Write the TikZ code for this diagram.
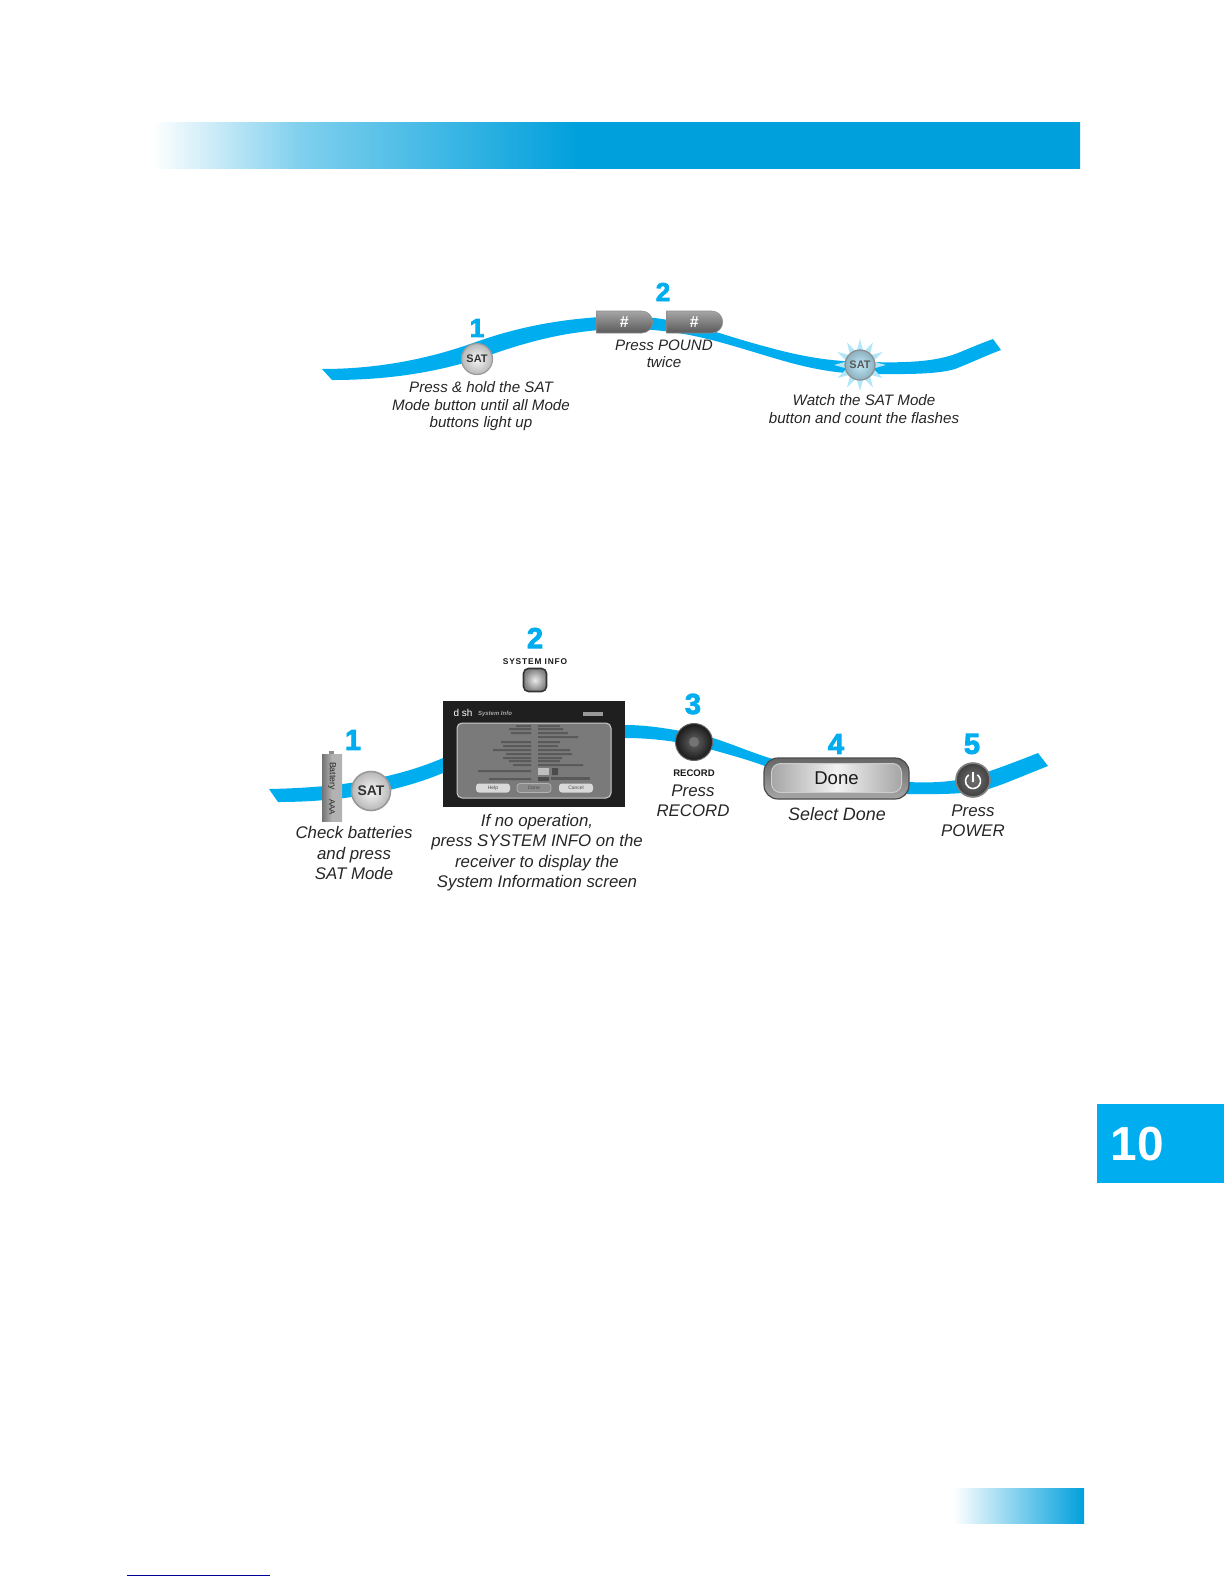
\documentclass[tikz,border=0pt]{standalone}
\usepackage{fontspec}
\setmainfont{Liberation Sans}
\newfontfamily\stepfont[FakeBold=3]{Liberation Sans Bold}
\usetikzlibrary{shapes.geometric,shapes.misc}
\definecolor{ribbonblue}{HTML}{00AEEF}
\definecolor{bandblue}{HTML}{00A0DC}
\pgfdeclarehorizontalshading{bandfade}{100bp}{color(0bp)=(white); color(25bp)=(white); color(33bp)=(bandblue!50); color(48bp)=(bandblue); color(100bp)=(bandblue)}
\tikzset{
  stepnum/.style={text=ribbonblue,inner sep=0pt,font=\stepfont\fontsize{13}{13}\selectfont},
  bigstepnum/.style={stepnum,font=\stepfont\fontsize{14.5}{14.5}\selectfont},
  smallcap/.style={align=center,inner sep=0pt,text=black!85,font=\itshape\fontsize{7.6}{8.75}\selectfont},
  bigcap/.style={align=center,inner sep=0pt,text=black!85,font=\itshape\fontsize{8.45}{10.25}\selectfont},
  satbtn/.style={circle,inner sep=0pt,draw=black!40,line width=0.6pt,inner color=black!3,outer color=black!28,text=black!80},
  poundkey/.style={rounded rectangle,rounded rectangle west arc=none,inner sep=0pt,minimum width=28bp,minimum height=11bp,
    top color=black!35,bottom color=black!65,draw=black!45,line width=0.3pt,text=white,font=\bfseries\itshape\fontsize{8}{8}\selectfont},
  rowbar/.style={fill=black!75,opacity=0.55},
  tvbtn/.style={rectangle,rounded corners=1.5pt,inner sep=0pt,minimum width=17bp,minimum height=4.5bp,
    font=\fontsize{2.5}{2.5}\selectfont}
}
\begin{document}
\begin{tikzpicture}[x=0.5bp,y=-0.5bp]
\useasboundingbox (0,0) rectangle (1224,1584);
\shade[shading=bandfade] (152,122) rectangle (1080,168.5);
\fill[ribbonblue] (1097,1104) rectangle (1224,1183);
\node[text=white,inner sep=0pt,font=\bfseries\fontsize{24}{24}\selectfont] (chapter) at (1137,1144) {10};
\shade[left color=white,right color=bandblue] (953,1488) rectangle (1084,1523);
\draw[blue!60!black,line width=0.4pt] (127,1575) -- (270,1575);

\fill[ribbonblue] (322,369) .. controls (375,369) and (425,360) .. (473,343) .. controls (520,326) and (565,318) .. (620,316)
  .. controls (680,316) and (710,332) .. (767,347) .. controls (800,356) and (830,362) .. (870,362)
  .. controls (905,363) and (935,362) .. (958,353) .. controls (970,348) and (982,343) .. (993,339)
  -- (1001,350) .. controls (985,356) and (975,361) .. (955,369) .. controls (935,375) and (900,374) .. (870,374)
  .. controls (830,374) and (800,366) .. (767,356) .. controls (720,342) and (680,328) .. (620,329)
  .. controls (575,330) and (535,339) .. (490,355) .. controls (440,372) and (390,380) .. (332,380) -- cycle;

\node[satbtn,minimum size=15.5bp,font=\bfseries\fontsize{5.5}{5.5}\selectfont] (sata) at (477,359) {SAT};
\node[stepnum] (numa) at (477,328) {1};
\node[smallcap] (capa) at (481,406.5) {Press \& hold the SAT\\Mode button until all Mode\\buttons light up};
\node[poundkey] (pounda) at (624,322) {\#};
\node[poundkey] (poundb) at (694,322) {\#};
\node[stepnum] (numb) at (663,292) {2};
\node[smallcap] (capb) at (664,354) {Press POUND\\twice};
\node[star,star points=12,star point ratio=1.9,minimum size=26bp,inner sep=0pt,fill=ribbonblue!30] (burst) at (860,365) {};
\node[satbtn,draw=black!45,minimum size=15bp,inner color=ribbonblue!25,outer color=ribbonblue!45!black!45,text=black!65,font=\bfseries\fontsize{5.5}{5.5}\selectfont] (satb) at (860,365) {SAT};
\node[smallcap] (capc) at (864,409) {Watch the SAT Mode\\button and count the flashes};

\fill[ribbonblue] (269,789) .. controls (320,788) and (385,783) .. (443,758) .. controls (500,735) and (570,725) .. (625,725)
  .. controls (650,725) and (680,730) .. (713,738) .. controls (735,745) and (755,754) .. (773,759)
  .. controls (800,772) and (850,782) .. (908,782) .. controls (930,783) and (945,782) .. (957,780)
  .. controls (975,777) and (1000,768) .. (1038,753)
  -- (1048,766) .. controls (1020,777) and (1000,786) .. (985,790) .. controls (960,795) and (930,794) .. (908,794)
  .. controls (850,794) and (800,780) .. (770,768) .. controls (750,760) and (730,755) .. (713,750)
  .. controls (680,741) and (650,738) .. (625,738) .. controls (570,738) and (500,750) .. (443,773)
  .. controls (390,795) and (330,802) .. (278,802) -- cycle;

\fill[black!45] (329,751) rectangle (334,755);
\node[rectangle,minimum width=10bp,minimum height=33.5bp,inner sep=0pt,left color=black!55,right color=black!30,
  middle color=black!30] (battery) at (332,787.5) {};
\node[rotate=-90,inner sep=0pt,text=black!85,font=\fontsize{4.4}{4.4}\selectfont] (batname) at (332,776) {Battery};
\node[rotate=-90,inner sep=0pt,text=black!85,font=\fontsize{4}{4}\selectfont] (batsize) at (332,807) {AAA};
\node[satbtn,minimum size=19.5bp,line width=0.8pt,font=\bfseries\fontsize{7}{7}\selectfont] (satc) at (371,791) {SAT};
\node[bigstepnum] (numc) at (353,740) {1};
\node[bigcap] (capd) at (354,853) {Check batteries\\and press\\SAT Mode};

\node[bigstepnum] (numd) at (535,638) {2};
\node[inner sep=0pt,text=black!90,font=\bfseries\fontsize{4.2}{4.2}\addfontfeature{LetterSpace=10}\selectfont] (infolabel) at (535,662) {SYSTEM INFO};
\node[rectangle,rounded corners=2.5pt,minimum size=11.5bp,inner sep=0pt,draw=black!80,line width=0.8pt,inner color=black!8,outer color=black!50] (infobtn) at (535,680) {};
\node[rectangle,minimum width=91bp,minimum height=53bp,inner sep=0pt,fill=black!88] (screen) at (534,754) {};
\node[rectangle,rounded corners=2.5pt,minimum width=77bp,minimum height=37.5bp,inner sep=0pt,draw=black!20,line width=0.5pt,fill=black!52] (panel) at (534,760.5) {};
\node[inner sep=0pt,text=white,font=\fontsize{5}{5}\selectfont] (logo) at (463,713) {d sh};
\node[inner sep=0pt,text=black!35,font=\bfseries\itshape\fontsize{3}{3}\selectfont] (tvtitle) at (495,714) {System Info};
\fill[black!40] (583,712) rectangle (603,716);
\foreach \rowy/\rowl/\rowr in {726/15/22,729/22/25,733/20/30,737/0/40,742/30/22,746/28/20,750/38/32,754/25/34,758/28/24,761/22/22,765/18/45}
  \fill[rowbar] (531-\rowl,\rowy-1) rectangle (531,\rowy+1) (538,\rowy-1) rectangle (538+\rowr,\rowy+1);
\fill[rowbar] (478,770) rectangle (531,772) (489,778) rectangle (531,780);
\fill[black!25] (538,768) rectangle (549,775);
\fill[black!70] (552,768) rectangle (558,775) (538,777) rectangle (549,781);
\fill[black!65] (551,777) rectangle (590,780);
\node[tvbtn,fill=black!15,text=black!70] (helpbtn) at (493,788) {Help};
\node[tvbtn,fill=black!45,text=black!70,draw=black!30] (donebtn) at (534,788) {Done};
\node[tvbtn,fill=black!15,text=black!70] (cancelbtn) at (576,788) {Cancel};
\node[bigcap] (cape) at (537,852.5) {If no operation,\\press SYSTEM INFO on the\\receiver to display the\\System Information screen};

\node[bigstepnum] (nume) at (693,704) {3};
\node[circle,minimum size=18.5bp,inner sep=0pt,draw=black!60,line width=0.5pt,inner color=black!60,outer color=black!90] (recbtn) at (694,742) {};
\node[circle,minimum size=5bp,inner sep=0pt,fill=black!55] (recdot) at (694,742) {};
\node[inner sep=0pt,text=black!90,font=\bfseries\fontsize{4.8}{4.8}\selectfont] (reclabel) at (694,773) {RECORD};
\node[bigcap] (capf) at (693,801) {Press\\RECORD};

\node[bigstepnum] (numf) at (836,744) {4};
\node[rectangle,rounded corners=7pt,minimum width=72.5bp,minimum height=20.5bp,inner sep=0pt,draw=black!70,line width=0.6pt,top color=black!60,bottom color=black!35] (doneframe) at (836.5,778.5) {};
\node[rectangle,rounded corners=4.5pt,minimum width=65bp,minimum height=14.5bp,inner sep=0pt,draw=black!20,line width=0.5pt,left color=black!35,right color=black!35,middle color=black!5,text=black!90,font=\fontsize{9.3}{9.3}\selectfont] (donekey) at (836.5,778) {Done};
\node[bigcap,font=\itshape\fontsize{9}{10.25}\selectfont] (capg) at (837,814) {Select Done};

\node[bigstepnum] (numg) at (972,744) {5};
\node[circle,minimum size=17bp,inner sep=0pt,draw=black!50,line width=0.8pt,inner color=black!55,outer color=black!75] (powerbtn) at (973,780) {};
\draw[white,line width=0.8pt] (973,772) -- (973,782);
\draw[white,line width=0.8pt] (973,781) ++(-55:7.5) arc[start angle=-55,end angle=235,radius=7.5];
\node[bigcap] (caph) at (973,820.5) {Press\\POWER};
\end{tikzpicture}
\end{document}
